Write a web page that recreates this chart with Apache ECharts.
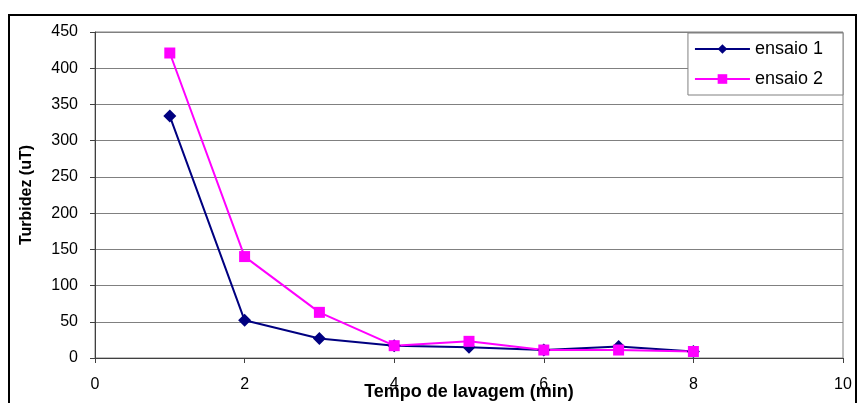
<!DOCTYPE html>
<html>
<head>
<meta charset="utf-8">
<script src="https://cdn.jsdelivr.net/npm/echarts@6/dist/echarts.min.js"></script>
<style>
  html, body { margin: 0; padding: 0; background: #fff; }
  #chart { width: 857px; height: 403px; }
</style>
</head>
<body>
<div id="chart"></div>
<script>
// tempo de lavagem (min)
const tempo = [1, 2, 3, 4, 5, 6, 7, 8]
const ensaio1 = [334, 52, 27, 17, 15, 11, 16, 9]
const ensaio2 = [421, 140, 63, 17, 23, 11, 11, 9]
const serieNames = ['ensaio 1', 'ensaio 2']

const chart = echarts.init(document.getElementById('chart'))

const toPairs = (vals) => tempo.map((t, i) => [t, vals[i]])

const option = {
  animation: false,
  textStyle: { fontFamily: 'Liberation Sans, Arial, sans-serif' },
  graphic: [
    {
      type: 'rect',
      shape: { x: 9, y: 15, width: 847, height: 400 },
      style: { fill: 'none', stroke: '#000', lineWidth: 2 },
      silent: true,
      z: -1,
    },
  ],
  grid: {
    left: 95,
    right: 14,
    top: 32,
    bottom: 45,
    outerBoundsMode: 'none',
    show: true,
    borderColor: '#808080',
    borderWidth: 1,
  },
  legend: {
    data: serieNames,
    orient: 'vertical',
    right: 14,
    top: 33,
    itemWidth: 55,
    itemHeight: 12,
    itemGap: 12,
    padding: [7, 20, 7, 6],
    backgroundColor: '#fff',
    borderColor: '#808080',
    borderWidth: 1,
    textStyle: { fontSize: 18, color: '#000' },
  },
  xAxis: {
    type: 'value',
    min: 0,
    max: 10,
    interval: 2,
    name: 'Tempo de lavagem (min)',
    nameLocation: 'middle',
    nameGap: 25,
    nameMoveOverlap: false,
    nameTextStyle: { fontSize: 18, fontWeight: 'bold', color: '#000' },
    axisLine: { show: true, lineStyle: { color: '#404040' } },
    axisTick: { show: true, length: 5, lineStyle: { color: '#404040' } },
    axisLabel: { fontSize: 16, color: '#000', margin: 19 },
    splitLine: { show: false },
  },
  yAxis: {
    type: 'value',
    min: 0,
    max: 450,
    interval: 50,
    name: 'Turbidez (uT)',
    nameLocation: 'middle',
    nameGap: 60,
    nameMoveOverlap: false,
    nameTextStyle: { fontSize: 16, fontWeight: 'bold', color: '#000' },
    axisLine: { show: true, lineStyle: { color: '#404040' } },
    axisTick: { show: true, length: 5, lineStyle: { color: '#404040' } },
    axisLabel: { fontSize: 16, color: '#000', margin: 17 },
    splitLine: { show: true, lineStyle: { color: '#808080', width: 1 } },
  },
  series: [
    {
      name: serieNames[0],
      type: 'line',
      data: toPairs(ensaio1),
      symbol: 'diamond',
      symbolSize: 13,
      lineStyle: { color: '#000080', width: 2 },
      itemStyle: { color: '#000080' },
    },
    {
      name: serieNames[1],
      type: 'line',
      data: toPairs(ensaio2),
      symbol: 'rect',
      symbolSize: 11,
      lineStyle: { color: '#ff00ff', width: 2 },
      itemStyle: { color: '#ff00ff' },
    },
  ],
}

chart.setOption(option)
</script>
</body>
</html>
